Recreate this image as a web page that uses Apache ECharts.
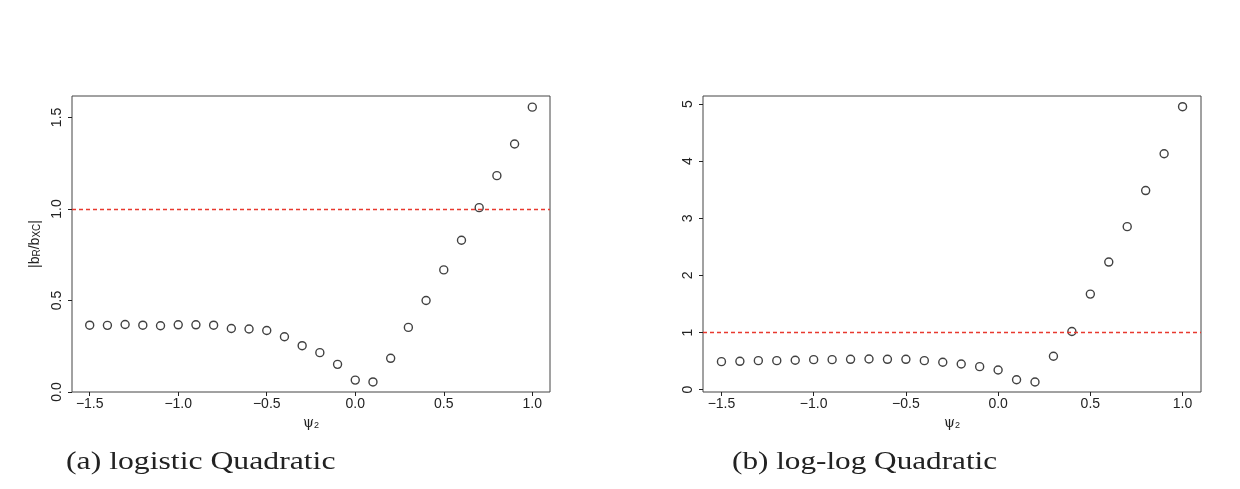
<!DOCTYPE html>
<html>
<head>
<meta charset="utf-8">
<script src="https://cdn.jsdelivr.net/npm/echarts@6/dist/echarts.min.js"></script>
<style>
  html, body { margin: 0; padding: 0; background: #fff; }
  #main { width: 1240px; height: 489px; }
</style>
</head>
<body>
<div id="main"></div>
<script>
// psi_2 values (x)
var psi = [-1.5, -1.4, -1.3, -1.2, -1.1, -1.0, -0.9, -0.8, -0.7, -0.6, -0.5, -0.4, -0.3,
           -0.2, -0.1, 0.0, 0.1, 0.2, 0.3, 0.4, 0.5, 0.6, 0.7, 0.8, 0.9, 1.0];

// (a) logistic Quadratic
var ratioLogistic = [0.365, 0.364, 0.369, 0.365, 0.362, 0.367, 0.367, 0.365, 0.347, 0.344, 0.336, 0.302, 0.253,
                     0.215, 0.151, 0.065, 0.055, 0.184, 0.353, 0.500, 0.667, 0.829, 1.007, 1.182, 1.355, 1.556];

// (b) log-log Quadratic
var ratioLoglog = [0.491, 0.497, 0.509, 0.509, 0.515, 0.526, 0.526, 0.532, 0.538, 0.532, 0.532, 0.509, 0.480,
                   0.450, 0.404, 0.345, 0.175, 0.135, 0.585, 1.018, 1.673, 2.234, 2.854, 3.485, 4.129, 4.953];

var xTicks = [-1.5, -1.0, -0.5, 0.0, 0.5, 1.0];
var yTicksA = [0.0, 0.5, 1.0, 1.5];
var yTicksB = [0, 1, 2, 3, 4, 5];
var refLine = 1;

var captions = ['(a) logistic Quadratic', '(b) log-log Quadratic'];

function pairs(xs, ys) {
    var out = [];
    for (var i = 0; i < xs.length; i++) out.push([xs[i], ys[i]]);
    return out;
}

function fmtX(v) {
    return v < 0 ? '\u2212' + Math.abs(v).toFixed(1) : v.toFixed(1);
}

var ink = '#222';
var tickFont = { color: ink, fontSize: 14, fontFamily: 'Liberation Sans, Arial, sans-serif' };

function xAxis(idx) {
    return {
        type: 'value', gridIndex: idx, min: -1.6, max: 1.1,
        name: 'ψ{s|2}', nameLocation: 'middle', nameGap: 22,
        nameTextStyle: {
            color: ink, fontSize: 14, fontFamily: 'DejaVu Serif, serif',
            rich: { s: { fontSize: 9, verticalAlign: 'bottom', color: ink, fontFamily: 'Liberation Sans, sans-serif' } }
        },
        axisLine: { show: false, onZero: false },
        axisTick: { show: true, length: 4, lineStyle: { color: ink }, customValues: xTicks },
        axisLabel: Object.assign({ margin: 5, formatter: fmtX, customValues: xTicks }, tickFont),
        splitLine: { show: false }
    };
}

function yAxis(idx, min, max, ticks, fmt, name) {
    return {
        type: 'value', gridIndex: idx, min: min, max: max,
        name: name || '', nameLocation: 'middle', nameGap: 30, nameRotate: 90,
        nameTextStyle: {
            color: ink, fontSize: 14, fontFamily: 'Liberation Sans, Arial, sans-serif',
            rich: { s: { fontSize: 10, verticalAlign: 'bottom', color: ink } }
        },
        axisLine: { show: false, onZero: false },
        axisTick: { show: true, length: 4, lineStyle: { color: ink }, customValues: ticks },
        axisLabel: Object.assign({ rotate: 90, margin: 8, formatter: fmt, customValues: ticks }, tickFont),
        splitLine: { show: false }
    };
}

function scatter(idx, ys) {
    return {
        type: 'scatter', xAxisIndex: idx, yAxisIndex: idx,
        data: pairs(psi, ys),
        symbol: 'circle', symbolSize: 8,
        itemStyle: { color: 'rgba(0,0,0,0)', borderColor: '#111', borderWidth: 1.4 },
        emphasis: { disabled: true },
        markLine: {
            silent: true, symbol: ['none', 'none'], label: { show: false },
            lineStyle: { color: '#e8392f', type: [4, 3], width: 1.3 },
            data: [{ yAxis: refLine }]
        }
    };
}

var option = {
    backgroundColor: '#fff',
    animation: false,
    grid: [
        { left: 72, top: 96, width: 478, height: 296, show: true, borderColor: '#444', borderWidth: 1 },
        { left: 703, top: 96, width: 498, height: 296, show: true, borderColor: '#444', borderWidth: 1 }
    ],
    xAxis: [xAxis(0), xAxis(1)],
    yAxis: [
        yAxis(0, 0, 1.617, yTicksA, function (v) { return v.toFixed(1); }, '|b{s|R}/b{s|XC}|'),
        yAxis(1, -0.04, 5.14, yTicksB, function (v) { return String(v); })
    ],
    series: [scatter(0, ratioLogistic), scatter(1, ratioLoglog)],
    graphic: [
        { type: 'text', left: 66, top: 449, scaleX: 1.22,
          style: { text: captions[0], font: '26px "Liberation Serif"', fill: ink } },
        { type: 'text', left: 732, top: 449, scaleX: 1.2,
          style: { text: captions[1], font: '26px "Liberation Serif"', fill: ink } }
    ]
};

var chart = echarts.init(document.getElementById('main'));
chart.setOption(option);
</script>
</body>
</html>
